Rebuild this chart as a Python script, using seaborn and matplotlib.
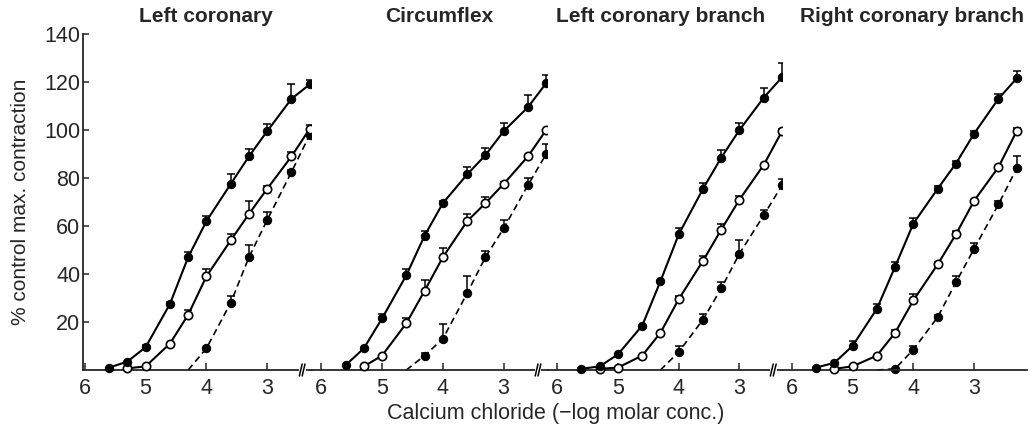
import numpy as np
import pandas as pd
import matplotlib
matplotlib.use("Agg")
import matplotlib.pyplot as plt
import seaborn as sns

# -log molar concentration of CaCl2 (shared grid)
log_conc = [5.6, 5.3, 5.0, 4.6, 4.3, 4.0, 3.6, 3.3, 3.0, 2.6, 2.3]
nan = np.nan

panels = ["Left coronary", "Circumflex", "Left coronary branch", "Right coronary branch"]

# filled circles, solid line
ctrl = [
    [1, 3.5, 9.5, 27.5, 47, 62, 77.5, 89, 99.5, 113, 119],
    [2, 9, 21.5, 39.5, 56, 69.5, 81.5, 89.5, 99.5, 109.5, 119.5],
    [0.5, 1.5, 6.5, 18.5, 37, 56.5, 75.5, 88.5, 100, 113.5, 122],
    [1, 3, 10, 25.5, 43, 61, 75.5, 86, 98.5, 113, 121.5],
]
ctrl_err = [
    [0, 0, 1, 1, 2, 2, 4, 3, 3, 6, 2],
    [0, 0, 2, 2.5, 2, 1, 3, 3, 3.5, 5, 3.5],
    [0, 0, 0, 0, 0, 2.5, 2.5, 3, 3, 4, 6],
    [0, 0, 2, 2, 2, 2.5, 1, 1, 1, 2, 3],
]

# open circles, solid line
opn = [
    [nan, 0.7, 1.5, 11, 23, 39, 54, 65, 75.5, 89, 100.5],
    [nan, 1.5, 6, 19.5, 33, 47, 62, 69.5, 77.5, 89, 100],
    [nan, 0.5, 1, 6, 15.5, 29.5, 45.5, 58.5, 71, 85.5, 99.5],
    [nan, 0.5, 1.5, 6, 15.5, 29, 44, 56.5, 70.5, 84.5, 99.5],
]
opn_err = [
    [0, 0, 0, 0, 2, 3, 2.5, 5.5, 1, 2, 1.5],
    [0, 0, 0, 2, 4.5, 4, 3, 2.5, 1, 0, 0],
    [0, 0, 0, 0, 0, 1.5, 2, 2.5, 1.5, 0, 1],
    [0, 0, 0, 0, 1, 2.5, 1, 1.5, 0, 0, 1.5],
]

# filled circles, dashed line (first value = threshold, no marker)
dash = [
    [nan, nan, nan, nan, 0, 9, 28, 47, 62.5, 82.5, 98],
    [nan, nan, nan, 0, 6, 13, 32, 47, 59, 77, 90],
    [nan, nan, nan, nan, 0, 7.5, 21, 34, 48.5, 64.5, 77],
    [nan, nan, nan, 0, 0.5, 8.5, 22, 36.5, 50.5, 69, 84],
]
dash_err = [
    [0, 0, 0, 0, 0, 0, 3, 5, 3.5, 1, 1],
    [0, 0, 0, 0, 1, 6, 7, 2.5, 3.5, 3, 4],
    [0, 0, 0, 0, 0, 2.5, 2.5, 2.5, 5.5, 2, 2.5],
    [0, 0, 0, 0, 0, 1.5, 1, 2.5, 2.5, 1.5, 5],
]

xlims = [(6.03, 2.26), (6.15, 2.27), (6.15, 2.28), (6.14, 2.13)]
title_x = [0.535, 0.54, 0.48, 0.53]

sns.set_style("ticks")
plt.rcParams["font.family"] = ["Liberation Sans", "DejaVu Sans"]

widths = [lo - hi for lo, hi in xlims]
fig, axes = plt.subplots(1, 4, figsize=(10.32, 4.32), dpi=100, sharey=True,
                         gridspec_kw={"width_ratios": widths, "wspace": 0})
fig.subplots_adjust(left=83 / 1032, right=1027 / 1032, bottom=1 - 370 / 432, top=1 - 34 / 432)

ms = 6
eb = dict(fmt="none", ecolor="black", elinewidth=1.1, capsize=2.8, capthick=1.1, clip_on=False)
for i, ax in enumerate(axes):
    df = pd.DataFrame({"x": log_conc, "ctrl": ctrl[i], "opn": opn[i], "dash": dash[i],
                       "ce": ctrl_err[i], "oe": opn_err[i], "de": dash_err[i]})

    d = df.dropna(subset=["dash"]).reset_index(drop=True)
    sns.lineplot(data=d, x="x", y="dash", ax=ax, sort=False, color="black", lw=1.2,
                 linestyle=(0, (4, 2.5)), marker="o", markersize=ms, markevery=list(range(1, len(d))),
                 markerfacecolor="black", markeredgecolor="black", clip_on=False)
    ax.errorbar(d["x"][1:], d["dash"][1:], yerr=[np.zeros(len(d) - 1), d["de"][1:]], **eb)

    o = df.dropna(subset=["opn"])
    sns.lineplot(data=o, x="x", y="opn", ax=ax, sort=False, color="black", lw=1.5,
                 marker="o", markersize=ms, markerfacecolor="white", markeredgecolor="black",
                 markeredgewidth=1.2, clip_on=False, zorder=3)
    ax.errorbar(o["x"], o["opn"], yerr=[np.zeros(len(o)), o["oe"]], **eb)

    sns.lineplot(data=df, x="x", y="ctrl", ax=ax, sort=False, color="black", lw=1.5,
                 marker="o", markersize=ms, markerfacecolor="black", markeredgecolor="black",
                 clip_on=False, zorder=4)
    ax.errorbar(df["x"], df["ctrl"], yerr=[np.zeros(len(df)), df["ce"]], **eb)

    ax.set_xlim(*xlims[i])
    ax.set_ylim(0, 140)
    ax.set_xticks([6, 5, 4, 3])
    ax.set_xticklabels(["6", "5", "4", "3"])
    ax.tick_params(axis="x", direction="in", length=5, width=1.1, labelsize=15.5, pad=6)
    ax.set_xlabel("")
    ax.set_ylabel("")
    for s in ["top", "right"]:
        ax.spines[s].set_visible(False)
    ax.spines["bottom"].set_linewidth(1.3)
    ax.set_title(panels[i], fontsize=15, fontweight="bold", x=title_x[i], pad=9)
    if i == 0:
        ax.spines["left"].set_linewidth(1.3)
        ax.set_yticks([20, 40, 60, 80, 100, 120, 140])
        ax.tick_params(axis="y", direction="in", length=4, width=1.1, labelsize=15.5, pad=2)
    else:
        ax.spines["left"].set_visible(False)
        ax.tick_params(axis="y", left=False)
        # axis break mark
        bx = -10 / (ax.get_position().width * 1032)
        h = 6 / 336
        ax.plot([bx - 0.006, bx + 0.006], [0, 0], transform=ax.transAxes, color="white",
                lw=3, clip_on=False, zorder=5)
        for dx in (-0.006, 0.006):
            ax.plot([bx + dx - 0.006, bx + dx + 0.006], [-h, h], transform=ax.transAxes,
                    color="black", lw=1.1, clip_on=False, zorder=6)

axes[0].set_ylabel("% control max. contraction", fontsize=15)
axes[0].yaxis.set_label_coords(-(83 - 30) / 228, 0.5)
fig.text(556 / 1032, 1 - 413 / 432, "Calcium chloride (\u2212log molar conc.)",
         ha="center", va="center", fontsize=15.5)

fig.savefig("out.png", dpi=100)
